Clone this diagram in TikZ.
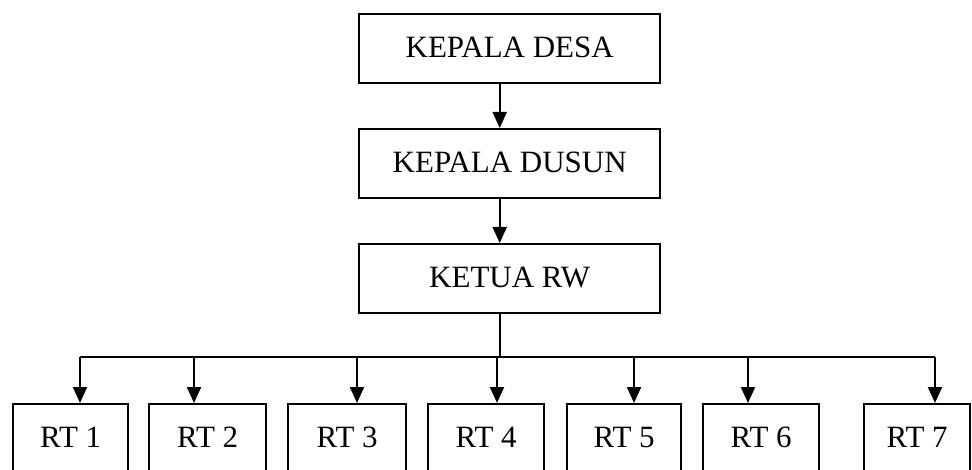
\documentclass[tikz,border=0pt]{standalone}
\usepackage{fontspec}
\setmainfont{Liberation Serif}
\usetikzlibrary{arrows.meta}
\begin{document}
\begin{tikzpicture}[x=1pt,y=-1pt,
  box/.style={draw, line width=2.4pt, inner sep=0pt, minimum height=69pt, anchor=north west,
              font=\fontsize{31}{31}\selectfont, text depth=2pt},
  conn/.style={line width=2.2pt},
  arr/.style={conn, -{Triangle[width=14pt,length=16pt]}}]
\useasboundingbox (0,0) rectangle (972,470);
\clip (0,0) rectangle (972,470);
\fill[white] (0,0) rectangle (972,470);
% upper chain
\node[box, minimum width=301pt] (desa)  at (358,13)  {KEPALA DESA};
\node[box, minimum width=301pt] (dusun) at (358,128) {KEPALA DUSUN};
\node[box, minimum width=301pt] (rw)    at (358,243) {KETUA RW};
\draw[arr] ([xshift=-10pt]desa.south) -- ([xshift=-10pt]dusun.north);
\draw[arr] ([xshift=-10pt]dusun.south) -- ([xshift=-10pt]rw.north);
% RT boxes
\node[box, minimum width=115pt] (rt1) at (12,403)  {RT 1};
\node[box, minimum width=117pt] (rt2) at (148,403) {RT 2};
\node[box, minimum width=118pt] (rt3) at (287,403) {RT 3};
\node[box, minimum width=116pt] (rt4) at (427,403) {RT 4};
\node[box, minimum width=114pt] (rt5) at (566,403) {RT 5};
\node[box, minimum width=116pt] (rt6) at (702,403) {RT 6};
\node[box, minimum width=106pt] (rt7) at (863,403) {RT 7};
% bus
\coordinate (b1) at (80,357);
\coordinate (b2) at (194,357);
\coordinate (b3) at (357,357);
\coordinate (b4) at (497,357);
\coordinate (b5) at (634,357);
\coordinate (b6) at (748,357);
\coordinate (b7) at (935,357);
\coordinate (j)  at (500,357);
\draw[conn] (b1) -- (b7);
\draw[conn] (rw.south -| j) -- (j);
\foreach \i in {1,...,7}{
  \draw[arr] (b\i) -- (b\i |- rt\i.north);
}
\end{tikzpicture}
\end{document}
